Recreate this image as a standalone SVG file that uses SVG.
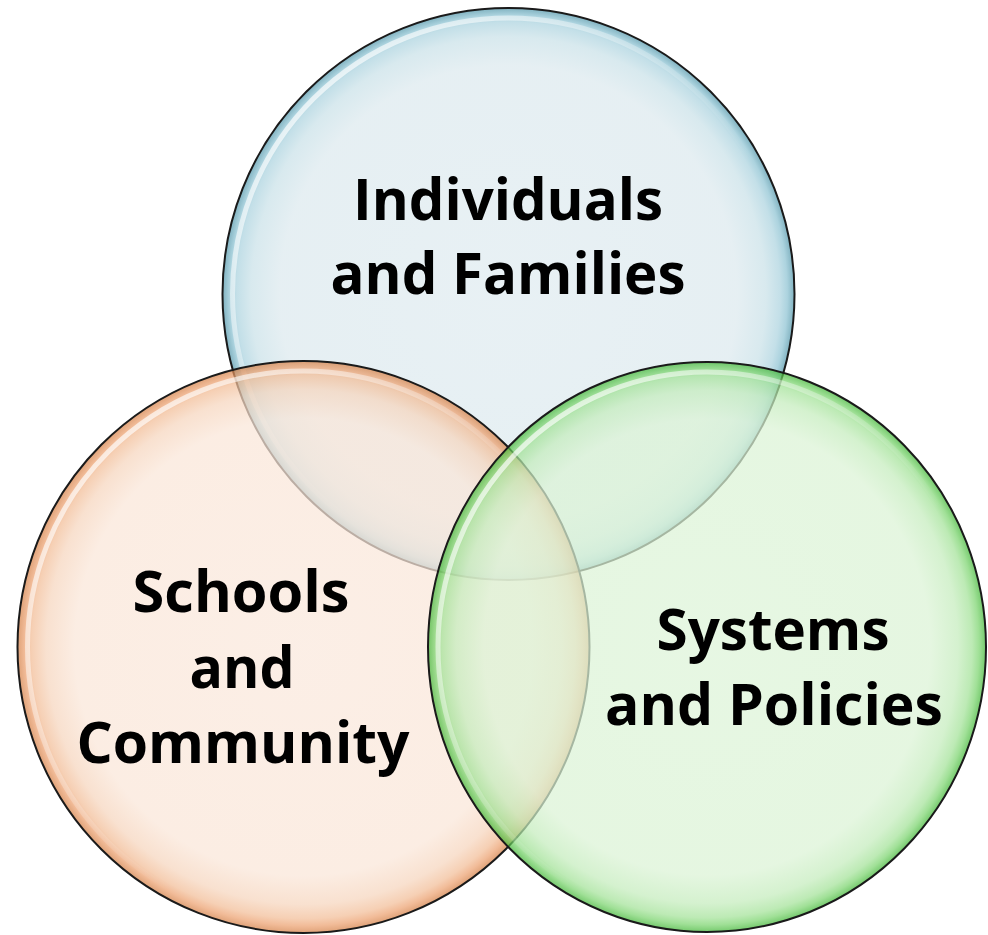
<svg xmlns="http://www.w3.org/2000/svg" width="988" height="935" viewBox="0 0 988 935">
<defs>
<radialGradient id="gBlue" cx="0.5" cy="0.5" r="0.5">
<stop offset="0" stop-color="#dfebf0"/>
<stop offset="0.8" stop-color="#dce9ee"/>
<stop offset="0.9" stop-color="#c9e1e8"/>
<stop offset="0.95" stop-color="#acd3df"/>
<stop offset="0.975" stop-color="#8cc2d2"/>
<stop offset="1" stop-color="#4f94a8"/>
</radialGradient>
<radialGradient id="gOrange" cx="0.5" cy="0.5" r="0.5">
<stop offset="0" stop-color="#fae8dc"/>
<stop offset="0.8" stop-color="#fae6d8"/>
<stop offset="0.9" stop-color="#f6d5bd"/>
<stop offset="0.95" stop-color="#f2bd97"/>
<stop offset="0.975" stop-color="#eca170"/>
<stop offset="1" stop-color="#d37e44"/>
</radialGradient>
<radialGradient id="gGreen" cx="0.5" cy="0.5" r="0.5">
<stop offset="0" stop-color="#ddf4d8"/>
<stop offset="0.8" stop-color="#dbf3d5"/>
<stop offset="0.9" stop-color="#c4ecbc"/>
<stop offset="0.95" stop-color="#a3e298"/>
<stop offset="0.975" stop-color="#7bd46e"/>
<stop offset="1" stop-color="#3fb534"/>
</radialGradient>
<linearGradient id="hl" x1="0" y1="0" x2="1" y2="1">
<stop offset="0" stop-color="#ffffff" stop-opacity="0.9"/>
<stop offset="0.45" stop-color="#ffffff" stop-opacity="0.2"/>
<stop offset="0.6" stop-color="#ffffff" stop-opacity="0"/>
</linearGradient>
</defs>
<style>
.disc { opacity: 0.72; }
.rim { fill: none; stroke: #1a1a1a; stroke-width: 2; }
.shine { fill: none; stroke: url(#hl); stroke-width: 5; }
.lbl { font-family: "Open Sans", "Liberation Sans", sans-serif; font-weight: bold; font-size: 58px; fill: #000; text-anchor: middle; }
</style>
<rect width="988" height="935" fill="#ffffff"/>
<g id="individuals-families">
<circle class="disc" cx="508.5" cy="294" r="286" fill="url(#gBlue)"/>
<circle class="shine" cx="508.5" cy="294" r="276"/>
<circle class="rim" cx="508.5" cy="294" r="286"/>
</g>
<g id="schools-community">
<circle class="disc" cx="303.5" cy="647" r="286" fill="url(#gOrange)"/>
<circle class="shine" cx="303.5" cy="647" r="276"/>
<circle class="rim" cx="303.5" cy="647" r="286"/>
</g>
<g id="systems-policies">
<ellipse class="disc" cx="707" cy="647" rx="279" ry="285" fill="url(#gGreen)"/>
<ellipse class="shine" cx="707" cy="647" rx="269" ry="275"/>
<ellipse class="rim" cx="707" cy="647" rx="279" ry="285"/>
</g>
<g id="labels">
<text class="lbl" x="508" y="220" textLength="310" lengthAdjust="spacingAndGlyphs">Individuals</text>
<text class="lbl" x="508" y="294" textLength="355" lengthAdjust="spacingAndGlyphs">and Families</text>
<text class="lbl" x="241" y="612" textLength="217" lengthAdjust="spacingAndGlyphs">Schools</text>
<text class="lbl" x="242" y="688" textLength="105" lengthAdjust="spacingAndGlyphs">and</text>
<text class="lbl" x="243" y="763" textLength="333" lengthAdjust="spacingAndGlyphs">Community</text>
<text class="lbl" x="773" y="650" textLength="233" lengthAdjust="spacingAndGlyphs">Systems</text>
<text class="lbl" x="774" y="725" textLength="338" lengthAdjust="spacingAndGlyphs">and Policies</text>
</g>
</svg>
